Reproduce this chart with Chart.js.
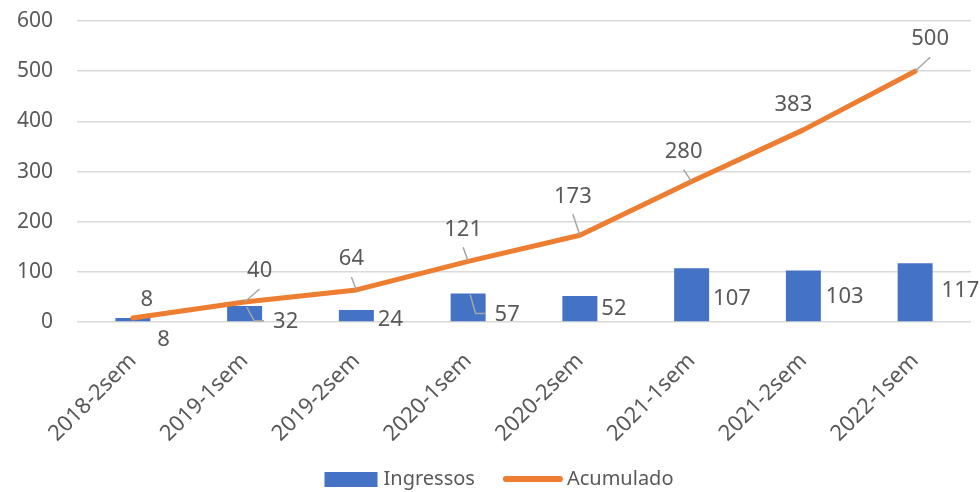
<!DOCTYPE html>
<html>
<head>
<meta charset="utf-8">
<script src="https://cdn.jsdelivr.net/npm/chart.js@4.4.0/dist/chart.umd.min.js"></script>
<style>
  html, body { margin: 0; padding: 0; background: #fff; }
  #wrap { width: 980px; height: 492px; }
</style>
</head>
<body>
<div id="wrap"><canvas id="chart"></canvas></div>
<script>
const categories = ["2018-2sem", "2019-1sem", "2019-2sem", "2020-1sem", "2020-2sem", "2021-1sem", "2021-2sem", "2022-1sem"];
const ingressos = [8, 32, 24, 57, 52, 107, 103, 117];
const acumulado = [8, 40, 64, 121, 173, 280, 383, 500];
const yMin = 0;
const yMax = 600;
const yStep = 100;

const blue = "#4472C4";
const orange = "#ED7D31";
const textGray = "#595959";
const leaderGray = "#a6a6a6";
const fontFamily = "'Noto Sans', 'Open Sans', sans-serif";

// hand placed label offsets (like the excel ones), [dx, dy, leader]
// bars: from right edge / middle of bar, text left aligned
const barLabelPos = [[7, 20, false], [11, 8, true], [4, 4, false], [9, 7, true], [4, 0, false], [4, 4, false], [5, 1, false], [9, -2, false]];
// line: from the point, text centered
const lineLabelPos = [[14, -18, false], [15, -31, true], [-5, -31, true], [-5, -32, true], [-7, -39, true], [-8, -30, true], [-10, -25, false], [15, -32, true]];

const dataLabels = {
  id: "dataLabels",
  afterDatasetsDraw(chart) {
    const c = chart.ctx;
    c.save();
    c.font = "22px " + fontFamily;
    c.fillStyle = textGray;
    c.strokeStyle = leaderGray;
    c.lineWidth = 1.5;
    c.textBaseline = "middle";

    // bars
    chart.getDatasetMeta(0).data.forEach((bar, i) => {
      const right = bar.x + bar.width / 2;
      const mid = (bar.y + bar.base) / 2;
      const [dx, dy, leader] = barLabelPos[i];
      const tx = right + dx;
      const ty = mid + dy;
      if (leader) {
        c.beginPath();
        c.moveTo(bar.x + 2, bar.y + 1);
        c.lineTo(tx - 19, ty - 1);
        c.lineTo(tx - 9, ty - 1);
        c.stroke();
      }
      c.textAlign = "left";
      c.fillText(String(ingressos[i]), tx, ty);
    });

    // line
    chart.getDatasetMeta(1).data.forEach((pt, i) => {
      const [dx, dy, leader] = lineLabelPos[i];
      const tx = pt.x + dx;
      const ty = pt.y + dy;
      if (leader) {
        c.beginPath();
        c.moveTo(pt.x, pt.y);
        c.lineTo(tx, ty + 18);
        c.stroke();
      }
      c.textAlign = "center";
      c.fillText(String(acumulado[i]), tx, ty);
    });
    c.restore();
  }
};

const bottomLegend = {
  id: "bottomLegend",
  afterDraw(chart) {
    const c = chart.ctx;
    const names = chart.data.datasets.map(d => d.label);
    c.save();
    c.font = "20px " + fontFamily;
    c.textBaseline = "middle";
    c.textAlign = "left";
    const y = chart.height - 13;
    const w0 = c.measureText(names[0]).width;
    const w1 = c.measureText(names[1]).width;
    const total = 53 + 6 + w0 + 28 + 60 + 4 + w1;
    let x = chart.width / 2 - total / 2 + 9;
    c.fillStyle = blue;
    c.fillRect(x, y - 7, 53, 15);
    x += 59;
    c.fillStyle = textGray;
    c.fillText(names[0], x, y);
    x += w0 + 28;
    c.strokeStyle = orange;
    c.lineWidth = 6;
    c.lineCap = "round";
    c.beginPath();
    c.moveTo(x + 3, y);
    c.lineTo(x + 57, y);
    c.stroke();
    x += 64;
    c.fillText(names[1], x, y);
    c.restore();
  }
};

new Chart(document.getElementById("chart"), {
  type: "bar",
  data: {
    labels: categories,
    datasets: [
      {
        type: "bar",
        label: "Ingressos",
        data: ingressos,
        backgroundColor: blue,
        barPercentage: 0.313,
        categoryPercentage: 1,
        order: 1
      },
      {
        type: "line",
        label: "Acumulado",
        data: acumulado,
        borderColor: orange,
        backgroundColor: orange,
        borderWidth: 5,
        tension: 0,
        pointRadius: 0,
        borderCapStyle: "round",
        borderJoinStyle: "round",
        order: 0
      }
    ]
  },
  plugins: [dataLabels, bottomLegend],
  options: {
    responsive: true,
    maintainAspectRatio: false,
    animation: false,
    layout: { padding: { top: 21, right: 9, left: 15, bottom: 27 } },
    plugins: {
      legend: { display: false },
      tooltip: { enabled: false }
    },
    scales: {
      x: {
        grid: { display: false },
        border: { display: false },
        afterFit(scale) {
          scale.paddingLeft = 0;
          scale.paddingRight = 0;
        },
        ticks: {
          color: textGray,
          font: { size: 22, family: fontFamily },
          maxRotation: 45,
          minRotation: 45,
          padding: 18
        }
      },
      y: {
        min: yMin,
        max: yMax,
        border: { display: false },
        grid: { color: "#d9d9d9", lineWidth: 1.5, drawTicks: false },
        afterFit(scale) {
          scale.paddingTop = 0;
          scale.paddingBottom = 0;
          scale.width = 62;
        },
        ticks: {
          stepSize: yStep,
          color: textGray,
          font: { size: 21, family: fontFamily },
          padding: 24
        }
      }
    }
  }
});
</script>
</body>
</html>
